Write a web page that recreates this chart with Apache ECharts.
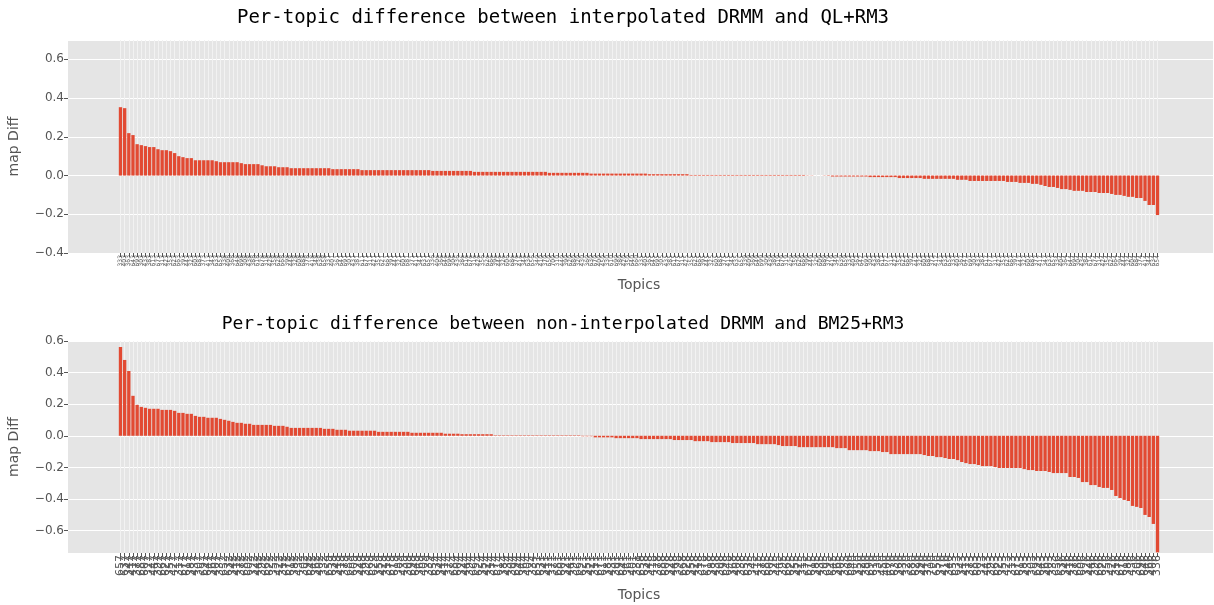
<!DOCTYPE html>
<html><head><meta charset="utf-8">
<script src="https://cdn.jsdelivr.net/npm/echarts@6/dist/echarts.min.js"></script>
<style>html,body{margin:0;padding:0;background:#fff}#c{width:1214px;height:605px}</style>
</head><body><div id="c"></div>
<script>
const titleTop = 'Per-topic difference between interpolated DRMM and QL+RM3';
const titleBottom = 'Per-topic difference between non-interpolated DRMM and BM25+RM3';
const yAxisLabel = 'map Diff';
const xAxisLabel = 'Topics';

const topicsTop = [
'333','403','363','643','693','303','433','383','613','673','313','423','353','623','663','393','443','323','603','683','373','413','343','633','653',
'338','408','368','648','698','308','438','388','618','678','318','428','358','628','668','398','448','328','608','688','378','418','348','638','658',
'331','401','361','641','691','301','431','381','611','671','311','421','351','621','661','391','441','321','601','681','371','411','341','631','651',
'336','406','366','646','696','306','436','386','616','676','316','426','356','626','666','396','446','326','606','686','376','416','346','636','656',
'340','410','370','650','700','310','440','390','620','680','320','430','360','630','670','400','450','330','610','690','380','420','350','640','660',
'335','405','365','645','695','305','435','385','615','675','315','425','355','625','665','395','445','325','605','685','375','415','345','635','655',
'339','409','369','649','699','309','439','389','619','679','319','429','359','629','669','399','449','329','609','689','379','419','349','639','659',
'332','402','362','642','692','302','432','382','612','672','312','422','352','622','662','392','442','322','602','682','372','412','342','632','652',
'337','407','367','647','697','307','437','387','617','677','317','427','357','627','667','397','447','327','607','687','377','417','347','637','657',
'334','404','364','644','694','304','434','384','614','674','314','424','354','624','664','394','444','324','604','684','374','414','344','634','654'];

const diffTop = [
0.353,0.348,0.219,0.209,0.162,0.157,0.152,0.147,0.147,0.136,
0.131,0.131,0.126,0.116,0.100,0.095,0.090,0.090,0.079,0.079,
0.079,0.079,0.079,0.074,0.069,0.069,0.069,0.069,0.069,0.064,
0.059,0.059,0.059,0.059,0.053,0.048,0.048,0.048,0.043,0.043,
0.043,0.038,0.038,0.038,0.038,0.038,0.038,0.038,0.038,0.038,
0.038,0.033,0.033,0.033,0.033,0.033,0.033,0.033,0.028,0.028,
0.028,0.028,0.028,0.028,0.028,0.028,0.028,0.028,0.028,0.028,
0.028,0.028,0.028,0.028,0.028,0.024,0.024,0.024,0.024,0.024,
0.024,0.024,0.024,0.024,0.024,0.019,0.019,0.019,0.019,0.019,
0.019,0.019,0.019,0.019,0.019,0.019,0.019,0.019,0.019,0.019,
0.019,0.019,0.019,0.014,0.014,0.014,0.014,0.014,0.014,0.014,
0.014,0.014,0.014,0.010,0.010,0.010,0.010,0.010,0.010,0.010,
0.010,0.010,0.010,0.010,0.010,0.010,0.010,0.007,0.007,0.007,
0.007,0.007,0.007,0.007,0.007,0.007,0.007,0.003,0.003,0.003,
0.003,0.003,0.003,0.003,0.003,0.003,0.003,0.003,0.003,0.003,
0.003,0.003,0.003,0.003,0.003,0.003,0.003,0.003,0.003,0.003,
0.003,0.003,0.003,0.003,0.003,0.001,0.001,0.000,0.000,-0.001,
-0.002,-0.005,-0.005,-0.005,-0.005,-0.005,-0.005,-0.005,-0.005,-0.005,
-0.008,-0.008,-0.008,-0.008,-0.008,-0.008,-0.008,-0.013,-0.013,-0.013,
-0.013,-0.013,-0.013,-0.017,-0.017,-0.017,-0.017,-0.017,-0.017,-0.017,
-0.017,-0.022,-0.022,-0.022,-0.028,-0.028,-0.028,-0.028,-0.028,-0.028,
-0.028,-0.028,-0.028,-0.033,-0.033,-0.033,-0.038,-0.038,-0.038,-0.043,
-0.043,-0.048,-0.054,-0.059,-0.059,-0.064,-0.070,-0.070,-0.074,-0.079,
-0.079,-0.079,-0.085,-0.085,-0.085,-0.090,-0.090,-0.090,-0.095,-0.100,
-0.100,-0.105,-0.110,-0.110,-0.116,-0.116,-0.131,-0.152,-0.152,-0.204];

const topicsBottom = [
'657','637','347','417','377','687','607','327','447','397','667','627','357','427','317','677','617','387','437','307','697','647','367','407','337',
'652','632','342','412','372','682','602','322','442','392','662','622','352','422','312','672','612','382','432','302','692','642','362','402','332',
'659','639','349','419','379','689','609','329','449','399','669','629','359','429','319','679','619','389','439','309','699','649','369','409','339',
'654','634','344','414','374','684','604','324','444','394','664','624','354','424','314','674','614','384','434','304','694','644','364','404','334',
'651','631','341','411','371','681','601','321','441','391','661','621','351','421','311','671','611','381','431','301','691','641','361','401','331',
'658','638','348','418','378','688','608','328','448','398','668','628','358','428','318','678','618','388','438','308','698','648','368','408','338',
'655','635','345','415','375','685','605','325','445','395','665','625','355','425','315','675','615','385','435','305','695','645','365','405','335',
'660','640','350','420','380','690','610','330','450','400','670','630','360','430','320','680','620','390','440','310','700','650','370','410','340',
'653','633','343','413','373','683','603','323','443','393','663','623','353','423','313','673','613','383','433','303','693','643','363','403','333',
'656','636','346','416','376','686','606','326','446','396','666','626','356','426','316','676','616','386','436','306','696','646','366','406','336'];

const diffBottom = [
0.562,0.480,0.410,0.253,0.196,0.183,0.177,0.171,0.171,0.171,
0.164,0.164,0.164,0.158,0.145,0.145,0.139,0.139,0.126,0.120,
0.120,0.114,0.114,0.114,0.107,0.101,0.095,0.088,0.082,0.082,
0.076,0.076,0.069,0.069,0.069,0.069,0.069,0.063,0.063,0.063,
0.057,0.050,0.050,0.050,0.050,0.050,0.050,0.050,0.050,0.044,
0.044,0.044,0.038,0.038,0.038,0.032,0.032,0.032,0.032,0.032,
0.032,0.032,0.025,0.025,0.025,0.025,0.025,0.025,0.025,0.025,
0.019,0.019,0.019,0.019,0.019,0.019,0.019,0.019,0.013,0.013,
0.013,0.013,0.010,0.010,0.010,0.010,0.010,0.010,0.010,0.010,
0.003,0.003,0.003,0.003,0.003,0.003,0.003,0.003,0.003,0.003,
0.003,0.003,0.003,0.003,0.003,0.003,0.003,0.003,0.003,0.003,
0.003,-0.003,-0.003,-0.003,-0.010,-0.010,-0.010,-0.010,-0.010,-0.015,
-0.015,-0.015,-0.015,-0.015,-0.015,-0.021,-0.021,-0.021,-0.021,-0.021,
-0.021,-0.021,-0.021,-0.027,-0.027,-0.027,-0.027,-0.027,-0.034,-0.034,
-0.034,-0.034,-0.040,-0.040,-0.040,-0.040,-0.040,-0.046,-0.046,-0.046,
-0.046,-0.046,-0.046,-0.053,-0.053,-0.053,-0.053,-0.053,-0.059,-0.065,
-0.065,-0.065,-0.065,-0.072,-0.072,-0.072,-0.072,-0.072,-0.072,-0.072,
-0.072,-0.072,-0.078,-0.078,-0.078,-0.091,-0.091,-0.091,-0.091,-0.091,
-0.097,-0.097,-0.097,-0.103,-0.103,-0.116,-0.116,-0.116,-0.116,-0.116,
-0.116,-0.116,-0.116,-0.122,-0.128,-0.128,-0.135,-0.135,-0.141,-0.147,
-0.147,-0.154,-0.166,-0.173,-0.179,-0.179,-0.185,-0.192,-0.192,-0.192,
-0.198,-0.204,-0.204,-0.204,-0.204,-0.204,-0.204,-0.211,-0.217,-0.217,
-0.223,-0.223,-0.223,-0.229,-0.236,-0.236,-0.236,-0.236,-0.261,-0.261,
-0.267,-0.293,-0.293,-0.312,-0.312,-0.324,-0.330,-0.330,-0.343,-0.381,
-0.394,-0.406,-0.413,-0.444,-0.450,-0.457,-0.501,-0.514,-0.558,-0.738];

const chart = echarts.init(document.getElementById('c'), null, {renderer: 'canvas'});
const BG = '#E5E5E5', RED = '#E24A33', TXT = '#555555';
const SANS = 'DejaVu Sans', MONO = 'DejaVu Sans Mono';
const fmt = v => (v < 0 ? '\u2212' : '') + Math.abs(v).toFixed(1);

const panels = [
  {top: 40, height: 213, ymin: -0.4, ymax: 0.7, topics: topicsTop, diff: diffTop, labelSize: 6, nameGap: 25, title: titleTop, titleSize: 19, titleY: 18},
  {top: 341, height: 212, ymin: -0.742, ymax: 0.6, topics: topicsBottom, diff: diffBottom, labelSize: 11, nameGap: 35, title: titleBottom, titleSize: 18, titleY: 324}
];
const bgLeft = 68, bgWidth = 1145, dataLeft = 118.4, dataWidth = 1041.2;

const grid = [], xAxis = [], yAxis = [], series = [], graphic = [];
panels.forEach((p, i) => {
  const g0 = grid.length;
  grid.push({left: bgLeft, top: p.top, width: bgWidth, height: p.height, show: true, backgroundColor: BG, borderWidth: 0});
  grid.push({left: dataLeft, top: p.top, width: dataWidth, height: p.height, show: false});
  xAxis.push({gridIndex: g0, type: 'value', min: 0, max: 1, show: false});
  xAxis.push({
    gridIndex: g0 + 1, type: 'category', data: p.topics, position: 'bottom',
    axisLine: {show: false, onZero: false},
    axisTick: {show: true, alignWithLabel: true, interval: 0, length: 4, lineStyle: {color: TXT, width: 1}},
    axisLabel: {interval: 0, rotate: 90, fontSize: p.labelSize, color: TXT, fontFamily: SANS, margin: 2},
    splitLine: {show: true, alignWithLabel: true, interval: 0, lineStyle: {color: '#F2F2F2', width: 1}},
    name: xAxisLabel, nameLocation: 'middle', nameGap: p.nameGap,
    nameTextStyle: {fontSize: 14, color: TXT, fontFamily: SANS}
  });
  yAxis.push({
    gridIndex: g0, type: 'value', min: p.ymin, max: p.ymax, minInterval: 0.2, maxInterval: 0.2, splitNumber: 6,
    axisLine: {show: false},
    axisTick: {show: true, length: 4, lineStyle: {color: TXT}},
    axisLabel: {formatter: fmt, color: TXT, fontSize: 12, fontFamily: SANS, margin: 4,
      showMinLabel: Math.abs(p.ymin / 0.2 - Math.round(p.ymin / 0.2)) < 1e-6,
      showMaxLabel: Math.abs(p.ymax / 0.2 - Math.round(p.ymax / 0.2)) < 1e-6},
    splitLine: {show: true, lineStyle: {color: '#FFFFFF', width: 1}}
  });
  yAxis.push({gridIndex: g0 + 1, type: 'value', min: p.ymin, max: p.ymax, show: false});
  series.push({
    type: 'bar', xAxisIndex: i * 2 + 1, yAxisIndex: i * 2 + 1, data: p.diff,
    barWidth: '80%', itemStyle: {color: RED}, silent: true
  });
  graphic.push({type: 'text', x: 563, y: p.titleY, style: {text: p.title, font: p.titleSize + 'px "' + MONO + '"', fill: '#000', textAlign: 'center', textVerticalAlign: 'middle'}});
  graphic.push({type: 'text', x: 14, y: p.top + p.height / 2, rotation: Math.PI / 2, style: {text: yAxisLabel, font: '14px "' + SANS + '"', fill: TXT, textAlign: 'center', textVerticalAlign: 'middle'}});
});

chart.setOption({animation: false, grid, xAxis, yAxis, series, graphic});
</script></body></html>
